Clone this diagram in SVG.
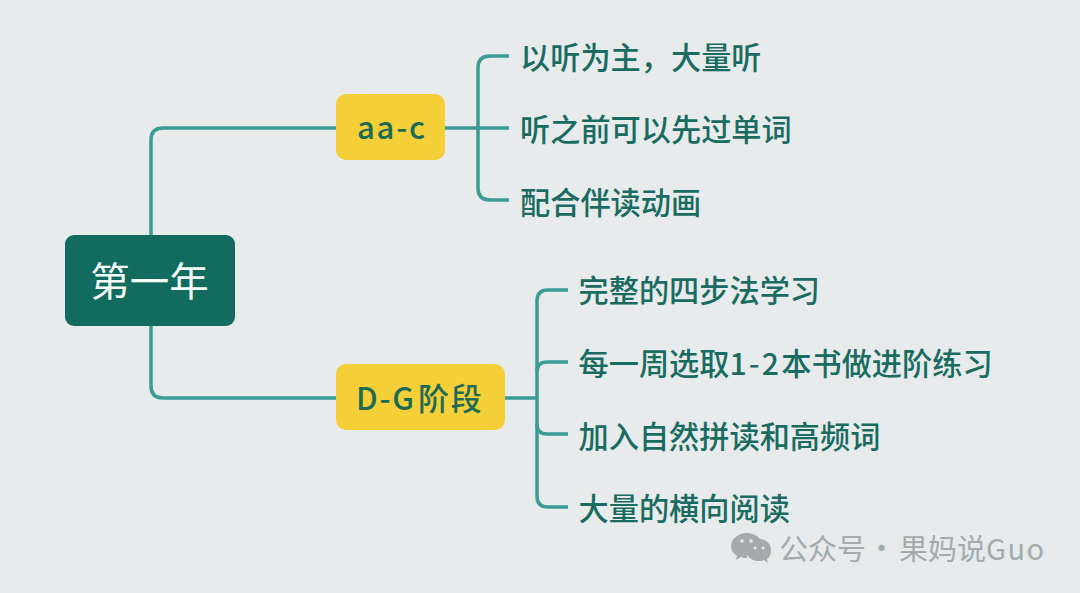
<svg xmlns="http://www.w3.org/2000/svg" width="1080" height="593" viewBox="0 0 1080 593">
<style>
text{font-family:"Noto Sans CJK SC","Noto Sans",sans-serif}
.c{fill:none;stroke:#3a9c94;stroke-width:3.500;stroke-linecap:butt}
.leaf{font-size:30.200px;font-weight:500;fill:#1a6b60}
.mid{font-size:31px;font-weight:500;fill:#1c6b55;letter-spacing:1.800px}
.y{fill:#f5cf38}
.wm{font-size:29px;fill:#a3abac}
</style>
<rect width="1080" height="593" fill="#e7ebec"/>
<g id="connectors">
<path class="c" d="M151 235V140Q151 128 163 128H336"/>
<path class="c" d="M151 326V386Q151 398 163 398H336"/>
<path class="c" d="M445 128H509"/>
<path class="c" d="M509 56H490Q478 56 478 68V188Q478 200 490 200H509"/>
<path class="c" d="M505 398H537"/>
<path class="c" d="M568 290H548Q537 290 537 301V496Q537 507 548 507H568"/>
<path class="c" d="M537 372Q537 362 547 362H568"/>
<path class="c" d="M537 424Q537 434 547 434H568"/>
</g>
<g id="root"><rect x="65" y="235" width="170" height="91" rx="9" fill="#136b5f"/><text x="149.500" y="296" font-size="39.500" fill="#f2fbf8" text-anchor="middle">第一年</text></g>
<g id="aac"><rect class="y" x="336" y="94" width="109" height="66" rx="10"/><text class="mid" x="357" y="139">aa-c</text></g>
<g id="dg"><rect class="y" x="336" y="364" width="169" height="66" rx="10"/><text class="mid" x="356" y="410">D-G<tspan dx="2">阶段</tspan></text></g>
<g id="n1"><text class="leaf" x="520" y="69">以听为主，大量听</text></g>
<g id="n2"><text class="leaf" x="520" y="141">听之前可以先过单词</text></g>
<g id="n3"><text class="leaf" x="520" y="214">配合伴读动画</text></g>
<g id="n4"><text class="leaf" x="578.500" y="302">完整的四步法学习</text></g>
<g id="n5"><text class="leaf" x="578.500" y="375">每一周选取<tspan letter-spacing="2.200">1-2</tspan>本书做进阶练习</text></g>
<g id="n6"><text class="leaf" x="578.500" y="448">加入自然拼读和高频词</text></g>
<g id="n7"><text class="leaf" x="578.500" y="520">大量的横向阅读</text></g>
<g id="watermark">
<path fill="#a3abac" d="M747 533c-9 0-16 6-16 13 0 4 2 7 6 10l-1 4 5-3c2 1 4 1 6 1-1-6 5-14 16-14-2-6-8-11-16-11z"/>
<path fill="#a3abac" d="M759 539c-8 0-13 5-13 11s5 11 13 11c2 0 3 0 5-1l4 3-1-4c3-2 4-5 4-9 0-6-5-11-12-11z"/>
<circle cx="742" cy="541" r="1.800" fill="#e7ebec"/><circle cx="751" cy="541" r="1.800" fill="#e7ebec"/><circle cx="755" cy="548" r="1.500" fill="#e7ebec"/><circle cx="763" cy="548" r="1.500" fill="#e7ebec"/>
<text class="wm" x="779" y="560">公众号</text>
<text class="wm" x="867" y="559">·</text>
<text class="wm" x="899" y="560">果妈说<tspan letter-spacing="1.500">Guo</tspan></text>
</g>
</svg>
